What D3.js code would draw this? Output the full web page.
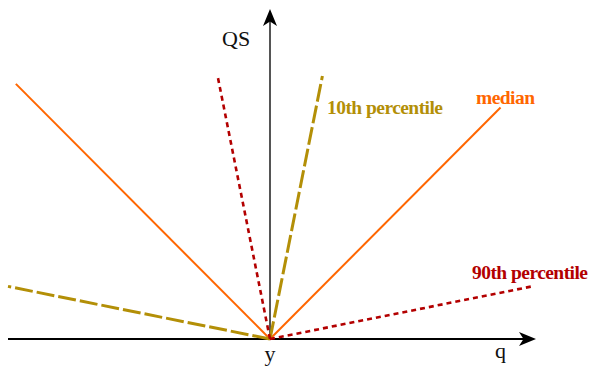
<!DOCTYPE html>
<html>
<head>
<meta charset="utf-8">
<script src="https://cdn.jsdelivr.net/npm/d3@7"></script>
<style>
  html, body { margin: 0; padding: 0; background: #fff; }
  svg { display: block; }
  text { font-family: "Liberation Serif", "Times New Roman", serif; }
</style>
</head>
<body>
<svg id="chart" width="590" height="366"></svg>
<script>
// Quantile score curves: each is a pair of rays meeting at q = y, QS = 0
const seriesNames = ["median", "10th percentile", "90th percentile"];
const medianPts = [[-0.97, 0.97], [0, 0], [0.88, 0.88]];
const p10Pts = [[-1.0, 0.2], [0, 0], [0.2, 1.0]];
const p90Pts = [[-0.2, 1.0], [0, 0], [1.0, 0.2]];
const axisLabels = { x: "q", y: "QS", origin: "y" };

const svg = d3.select("#chart");
const x = d3.scaleLinear().domain([-1, 1]).range([8, 532]);
const y = d3.scaleLinear().domain([0, 1]).range([339, 76]);
const line = d3.line().x(d => x(d[0])).y(d => y(d[1]));

const arrow = "M0,0 L-17,-7 L-12.5,0 L-17,7 Z";

// horizontal axis (q)
const xEnd = x.invert(536);
svg.append("line")
  .attr("x1", x(-1)).attr("x2", x(xEnd) - 6)
  .attr("y1", y(0)).attr("y2", y(0))
  .attr("stroke", "#000").attr("stroke-width", 2);
svg.append("path").attr("d", arrow)
  .attr("transform", `translate(${x(xEnd)},${y(0)})`)
  .attr("fill", "#000");

// vertical axis (QS)
const yEnd = y.invert(9);
svg.append("line")
  .attr("x1", x(0)).attr("x2", x(0))
  .attr("y1", y(0)).attr("y2", y(yEnd) + 6)
  .attr("stroke", "#555").attr("stroke-width", 2);
svg.append("path").attr("d", arrow)
  .attr("transform", `translate(${x(0)},${y(yEnd)}) rotate(-90)`)
  .attr("fill", "#000");

const series = [
  { name: seriesNames[0], pts: medianPts, color: "#ff6600", width: 2, dash: null,
    label: [476, 104], len: 59 },
  { name: seriesNames[1], pts: p10Pts, color: "#b38f07", width: 3, dash: "18,4",
    label: [327, 114], len: 116 },
  { name: seriesNames[2], pts: p90Pts, color: "#b30000", width: 2.6, dash: "5,4",
    label: [472, 279], len: 116 }
];

series.forEach(s => {
  // draw each ray outward from the vertex so dashes start at the origin
  const left = [s.pts[1], s.pts[0]];
  const right = [s.pts[1], s.pts[2]];
  [left, right].forEach(seg => {
    svg.append("path")
      .attr("d", line(seg))
      .attr("fill", "none")
      .attr("stroke", s.color)
      .attr("stroke-width", s.width)
      .attr("stroke-dasharray", s.dash);
  });
  svg.append("text")
    .attr("x", s.label[0]).attr("y", s.label[1])
    .attr("fill", s.color)
    .attr("font-size", 19.5)
    .attr("font-weight", "bold")
    .attr("textLength", s.len)
    .attr("lengthAdjust", "spacing")
    .text(s.name);
});

svg.append("text").attr("x", 222).attr("y", 46)
  .attr("font-size", 22).attr("fill", "#111").text(axisLabels.y);
svg.append("text").attr("x", x(0)).attr("y", 361).attr("text-anchor", "middle")
  .attr("font-size", 22).attr("fill", "#111").text(axisLabels.origin);
svg.append("text").attr("x", 495).attr("y", 358)
  .attr("font-size", 22).attr("fill", "#111").text(axisLabels.x);
</script>
</body>
</html>
